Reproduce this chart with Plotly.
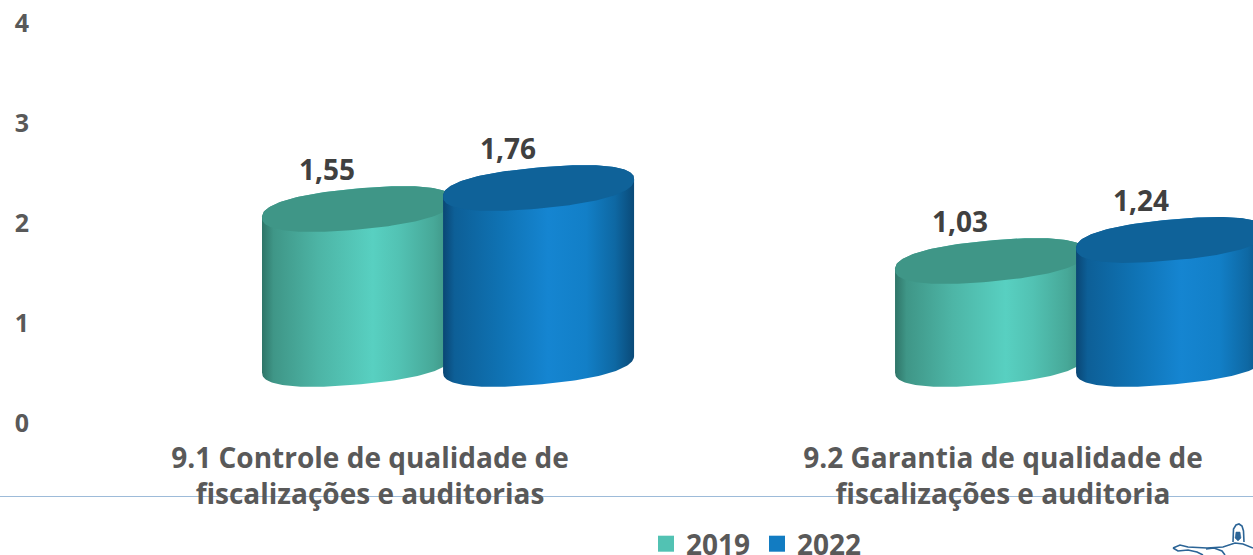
import numpy as np
import plotly.graph_objects as go

categories = ["9.1 Controle de qualidade de<br>fiscalizações e auditorias",
              "9.2 Garantia de qualidade de<br>fiscalizações e auditoria"]
series_names = ["2019", "2022"]
values_2019 = [1.55, 1.03]
values_2022 = [1.76, 1.24]
value_labels_2019 = ["1,55", "1,03"]
value_labels_2022 = ["1,76", "1,24"]
y_ticks = [0, 1, 2, 3, 4]

FONT = "Open Sans"
W, H = 1253, 555
ML, MT, MB = 30, 23, 132
CAT_PX = 633.0
CAT0_PX = 370.0
xr = [(ML - CAT0_PX) / CAT_PX, (W - CAT0_PX) / CAT_PX]

A = 95.5 / CAT_PX      # half width of a cylinder
B = 0.205              # ellipse half height
S = 0.085              # ellipse tilt
P = 0.85               # roundness of the ellipse ends
FLOOR = 0.59           # 3D floor of the chart in axis units
OFF = {"2019": -0.0197, "2022": 0.2663}

grad = {
    "2019": [[0, "#2f7568"], [0.06, "#3f9687"], [0.3, "#4db5a6"], [0.58, "#58d0c1"],
             [0.72, "#52c2b3"], [0.9, "#47a898"], [1, "#3c8e80"]],
    "2022": [[0, "#0a4674"], [0.06, "#0d5f97"], [0.3, "#0f72b3"], [0.55, "#1585d1"],
             [0.75, "#127fc7"], [0.9, "#0e68a3"], [1, "#0a4a78"]],
}
top_col = {"2019": "#3f9687", "2022": "#0f6299"}
swatch = {"2019": "#52c2b3", "2022": "#127cc2"}


def ell(cx, cy, t):
    c = np.sign(np.cos(t)) * np.abs(np.cos(t)) ** P
    s = np.sign(np.sin(t)) * np.abs(np.sin(t)) ** P
    return cx + A * c, cy + S * c + B * s


def px(x, y):
    return (x - ML) / (W - ML), (H - MB - y) / (H - MT - MB)


def path(points, close=False):
    s = ""
    for k, (x, y) in enumerate(points):
        u, v = px(x, y)
        s += f"{'M' if k == 0 else 'L'}{u:.5f},{v:.5f} "
    return s + ("Z" if close else "")


fig = go.Figure()
annots = []
for name, vals, labs in [("2019", values_2019, value_labels_2019),
                         ("2022", values_2022, value_labels_2022)]:
    for i, v in enumerate(vals):
        cx = i + OFF[name]
        top = FLOOR + v
        xb, yb = ell(cx, FLOOR, np.linspace(np.pi, 2 * np.pi, 80))
        xt, yt = ell(cx, top, np.linspace(0, np.pi, 80))
        fig.add_trace(go.Scatter(
            x=np.r_[xb, xt], y=np.r_[yb, yt], mode="lines", fill="toself",
            line=dict(width=0, color=swatch[name]),
            fillgradient=dict(type="horizontal", colorscale=grad[name]),
            showlegend=False, hoverinfo="skip"))
        xe, ye = ell(cx, top, np.linspace(0, 2 * np.pi, 160))
        fig.add_trace(go.Scatter(
            x=xe, y=ye, mode="lines", fill="toself", fillcolor=top_col[name],
            line=dict(width=0, color=top_col[name]),
            showlegend=False, hoverinfo="skip"))
        annots.append(dict(x=cx, y=top, xref="x", yref="y", text=f"<b>{labs[i]}</b>",
                           showarrow=False, xshift=-31, yshift=40,
                           font=dict(family=FONT, size=28, color="#404040")))
    fig.add_trace(go.Scatter(x=[None], y=[None], mode="markers", name=f"<b>{name}</b>",
                             marker=dict(symbol="square", size=16, color=swatch[name])))

logo = "#2b6496"
logo_paths = [
    path([(1233, 542), (1233.5, 529), (1236, 525), (1239, 524), (1242, 526), (1243.5, 531), (1244, 542)]),
    path([(1173, 548), (1180, 545), (1188, 547), (1207, 548), (1223, 547), (1235, 543),
          (1243, 544), (1253, 548)]),
    path([(1173, 548), (1178, 551), (1188, 550), (1197, 552), (1203, 555)]),
    path([(1206, 549), (1214, 548), (1222, 551), (1225, 555)]),
]
shapes = [dict(type="line", xref="paper", yref="paper",
               x0=px(0, 0)[0], x1=1, y0=px(0, 496.5)[1], y1=px(0, 496.5)[1],
               line=dict(color="#9dbbd9", width=1), layer="below")]
for p in logo_paths:
    shapes.append(dict(type="path", xref="paper", yref="paper", path=p,
                       line=dict(color=logo, width=1.6)))
shapes.append(dict(type="path", xref="paper", yref="paper",
                   path=path([(1236, 532), (1240, 532), (1241, 538), (1238, 541), (1235, 538)], True),
                   fillcolor=logo, line=dict(color=logo, width=0.5)))

fig.update_layout(
    width=W, height=H, autosize=False,
    margin=dict(l=ML, r=0, t=MT, b=MB),
    paper_bgcolor="white", plot_bgcolor="white",
    annotations=annots,
    showlegend=True,
    legend=dict(orientation="h", xref="container", yref="container",
                xanchor="left", yanchor="middle",
                x=646 / W, y=(H - 544) / H,
                entrywidth=66, entrywidthmode="pixels",
                font=dict(family=FONT, size=28, color="#595959"),
                bgcolor="rgba(0,0,0,0)", itemclick=False, itemdoubleclick=False),
    xaxis=dict(range=xr, showgrid=False, zeroline=False, showline=False,
               tickmode="array", tickvals=[0, 1],
               ticktext=[f"<b>{c.replace('<br>', '</b><br><b>')}</b>" for c in categories],
               ticks="", ticklabelstandoff=16,
               tickfont=dict(family=FONT, size=28, color="#595959")),
    yaxis=dict(range=[0, 4], showgrid=False, zeroline=False, showline=False,
               tickmode="array", tickvals=y_ticks,
               ticktext=[f"<b>{t}</b>" for t in y_ticks],
               ticks="", tickfont=dict(family=FONT, size=25, color="#595959")),
    shapes=shapes,
)
fig.write_html("out.html", config={"displayModeBar": False},
               post_script="document.body.style.margin='0';document.body.style.overflow='hidden';")
